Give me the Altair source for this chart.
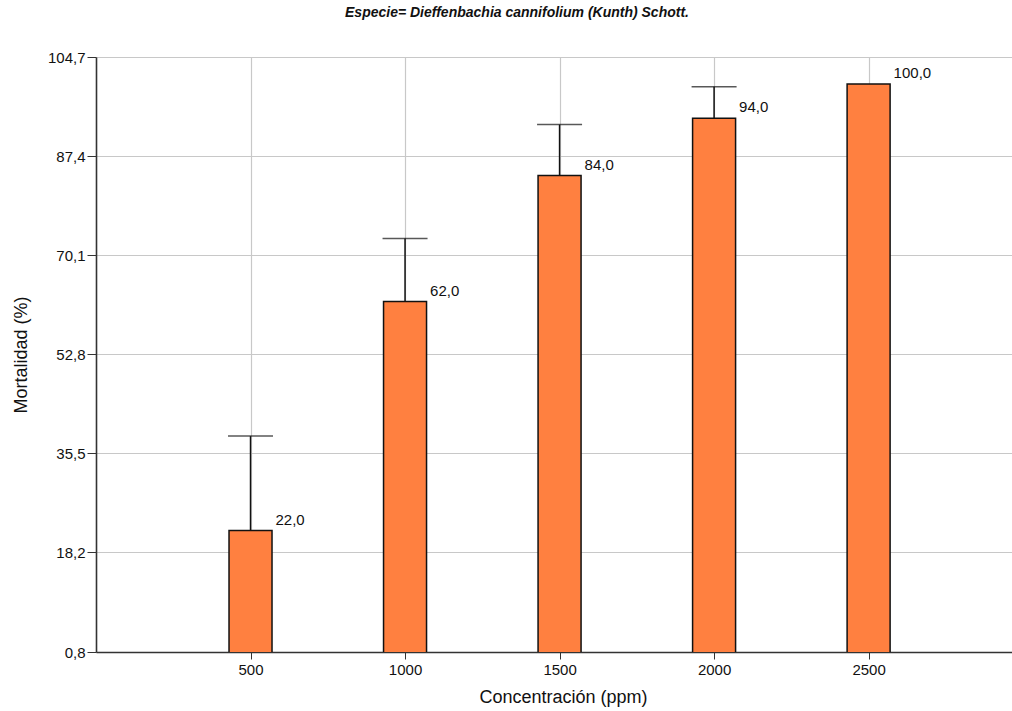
import altair as alt
import pandas as pd

# Mortality of Dieffenbachia cannifolium by concentration
concentracion = [500, 1000, 1500, 2000, 2500]
mortalidad = [22.0, 62.0, 84.0, 94.0, 100.0]
limite_superior = [38.5, 73.0, 92.9, 99.5, None]
y_ticks = [0.8, 18.2, 35.5, 52.8, 70.1, 87.4, 104.7]

df = pd.DataFrame({
    "conc": concentracion,
    "mort": mortalidad,
    "upper": limite_superior,
})

FONT = "Liberation Sans"
x_scale = alt.Scale(domain=[0, 2964], nice=False, zero=False, padding=0)
y_scale = alt.Scale(domain=[0.8, 104.7], nice=False, zero=False, padding=0)

x_enc = alt.X(
    "conc:Q",
    scale=x_scale,
    axis=alt.Axis(
        values=concentracion,
        format="d",
        title="Concentración (ppm)",
        titleX=467,
        titleY=45,
        titleBaseline="middle",
        titleFontSize=18,
        titleFontWeight="normal",
        titleColor="#111111",
        labelFontSize=15,
        labelColor="#111111",
        labelPadding=3,
        tickSize=7,
        tickColor="#333333",
        domainColor="#333333",
        domainWidth=1.6,
        grid=True,
        gridColor="#c8c8c8",
        gridWidth=1.2,
        labelFont=FONT,
        titleFont=FONT,
    ),
)

y_enc = alt.Y(
    "mort:Q",
    scale=y_scale,
    axis=alt.Axis(
        values=y_ticks,
        labelExpr="replace(format(datum.value, '.1f'), '.', ',')",
        title="Mortalidad (%)",
        titleX=-75,
        titleBaseline="middle",
        titleFontSize=18,
        titleFontWeight="normal",
        titleColor="#111111",
        labelFontSize=15,
        labelColor="#111111",
        labelPadding=2,
        tickSize=9,
        tickColor="#333333",
        domainColor="#333333",
        domainWidth=1.6,
        grid=True,
        gridColor="#c8c8c8",
        gridWidth=1.2,
        labelFont=FONT,
        titleFont=FONT,
    ),
)

base = alt.Chart(df)

bars = base.mark_bar(
    size=43, color="#FF8040", stroke="#111111", strokeWidth=1.5, clip=True
).encode(x=x_enc, y=y_enc)

errors = base.transform_filter("isValid(datum.upper)")

whisker = errors.mark_rule(color="#111111", strokeWidth=1.5).encode(
    x="conc:Q", y="mort:Q", y2="upper:Q"
)

cap = errors.mark_tick(
    orient="horizontal", size=45, thickness=1.5, color="#111111"
).encode(x="conc:Q", y="upper:Q")

labels = base.transform_calculate(
    etiqueta="replace(format(datum.mort, '.1f'), '.', ',')"
).mark_text(
    align="left", baseline="alphabetic", dx=25, dy=-6,
    fontSize=15, font=FONT, color="#111111"
).encode(x="conc:Q", y="mort:Q", text="etiqueta:N")

chart = (
    alt.layer(whisker, cap, bars, labels)
    .properties(
        width=916,
        height=595,
        title=alt.TitleParams(
            "Especie= Dieffenbachia cannifolium (Kunth) Schott.",
            font=FONT,
            fontSize=14,
            fontWeight="bold",
            fontStyle="italic",
            color="#111111",
            anchor="middle",
            dx=-37,
            offset=30,
        ),
        autosize=alt.AutoSizeParams(type="none"),
        padding={"left": 96, "top": 57, "right": 0, "bottom": 56},
    )
    .configure_view(stroke=None)
    .configure(background="white")
)

chart.save("out.html", embed_options={"renderer": "svg", "actions": False})
